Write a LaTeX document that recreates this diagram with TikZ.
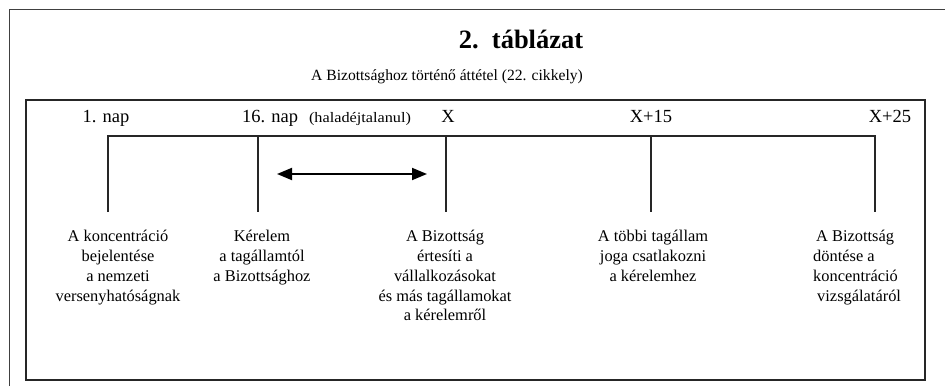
\documentclass[tikz,border=0pt]{standalone}
\usepackage{fontspec}
\setmainfont{Liberation Serif}
\usetikzlibrary{arrows.meta}

\tikzset{
  frameline/.style={draw=black!75, line width=1pt},
  boxline/.style={draw=black!85, line width=1.1pt},
  tick/.style={draw=black!85, line width=1.2pt},
  daylabel/.style={anchor=base, inner sep=0pt, font=\fontsize{18.5}{20}\selectfont},
  stepnote/.style={anchor=north, inner sep=0pt, align=center,
    font=\fontsize{16.4}{19.8}\selectfont},
  span/.style={line width=1.9pt, {Triangle[length=15pt,width=12pt]}-{Triangle[length=15pt,width=12pt]}}
}

\begin{document}
\begin{tikzpicture}[x=1pt,y=-1pt]
\useasboundingbox (0,0) rectangle (945,386);

% page frame (only its left and top edges fall inside the picture)
\draw[frameline] (9.5,386) |- (945,9);

% heading
\node[inner sep=0pt, font=\fontsize{26.5}{30}\selectfont\bfseries] (title) at (521,39)
  {2.\hspace{0.5em}táblázat};
\node[inner sep=0pt, font=\fontsize{15.6}{20}\selectfont] (subtitle) at (447,77)
  {A Bizottsághoz történő áttétel (22. cikkely)};

% table box
\draw[boxline] (26,100) rectangle (925,380);

% time line labels
\node[daylabel] (d1)  at (106,122) {1. nap};
\node[daylabel] (d16) at (270,122) {16. nap};
\node[anchor=base, inner sep=0pt, font=\fontsize{14.5}{16}\selectfont] (hat) at (360,122)
  {\scalebox{1.12}[1]{(haladéjtalanul)}};
\node[daylabel] (dx)   at (448,122) {X};
\node[daylabel] (dx15) at (651,122) {X+15};
\node[daylabel] (dx25) at (890,122) {X+25};

% bracket of the time line
\coordinate (t1) at (108,136);
\coordinate (t2) at (258,136);
\coordinate (t3) at (446,136);
\coordinate (t4) at (651,136);
\coordinate (t5) at (875,136);
\coordinate (b1) at (108,212);
\coordinate (b2) at (258,212);
\coordinate (b3) at (446,212);
\coordinate (b4) at (651,212);
\coordinate (b5) at (875,212);
\draw[tick] (b1) -- (t1) -- (t5) -- (b5);
\draw[tick] (t2) -- (b2);
\draw[tick] (t3) -- (b3);
\draw[tick] (t4) -- (b4);

% period between the request and the notification
\coordinate (a1) at (277,174);
\coordinate (a2) at (427,174);
\draw[span] (a1) -- (a2);

% steps
\node[stepnote] (s1) at (118,230)
  {A koncentráció\\bejelentése\\a nemzeti\\versenyhatóságnak};
\node[stepnote] (s2) at (262,230)
  {Kérelem\\a tagállamtól\\a Bizottsághoz};
\node[stepnote] (s3) at (445,230)
  {A Bizottság\\értesíti a\\vállalkozásokat\\és más tagállamokat\\a kérelemről};
\node[stepnote] (s4) at (653,230)
  {A többi tagállam\\joga csatlakozni\\a kérelemhez};
\node[stepnote, anchor=north west, align=left] (s5) at (813,230)
  {\hspace{3pt}A Bizottság\\döntése a\\koncentráció\\\hspace{4pt}vizsgálatáról};
\end{tikzpicture}
\end{document}
